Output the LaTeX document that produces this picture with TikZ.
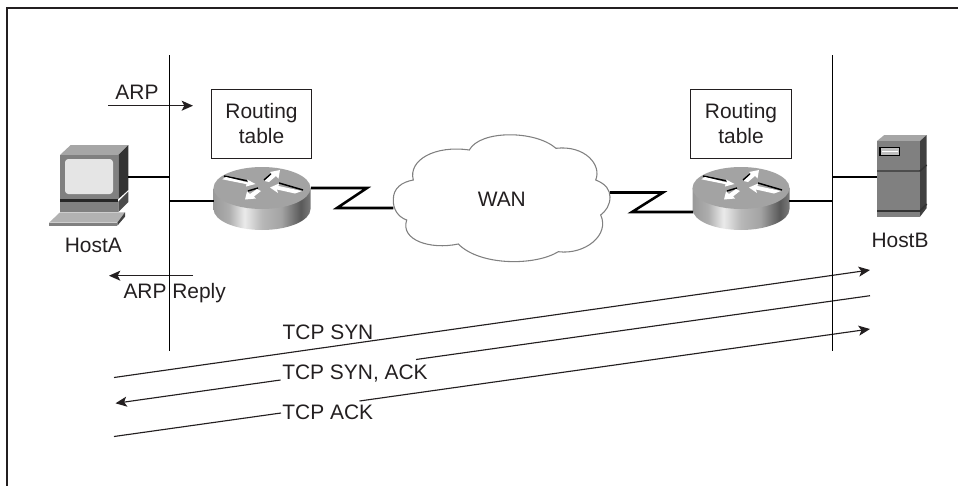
\documentclass[tikz,border=0pt]{standalone}
\usepackage{fontspec}
\usepackage{xcolor}
\usepackage{tikz}
\usetikzlibrary{arrows.meta}
\setmainfont{Liberation Sans}
\definecolor{ink}{HTML}{231F20}
\pgfdeclarehorizontalshading{routerside}{100bp}{
  color(0bp)=(black!40!white); color(25bp)=(black!40!white); color(33bp)=(black!32!white);
  color(41bp)=(black!8!white); color(50bp)=(black!28!white); color(60bp)=(black!36!white);
  color(70bp)=(black!65!white); color(75bp)=(black!52!white); color(100bp)=(black!52!white)}
\tikzset{
  lbl/.style={anchor=base, text=ink, font=\fontsize{15.7pt}{18.4pt}\selectfont, inner sep=0pt},
  wire/.style={draw=black, line width=0.8pt},
  serial/.style={draw=black, line width=1.9pt, line join=miter},
  msg/.style={draw=ink, line width=0.85pt},
  msgtip/.style={-{Stealth[length=8.5pt, width=7.5pt, inset=2pt]}},
  tablebox/.style={draw=ink, line width=0.75pt, align=center, text=ink, inner sep=0pt,
    minimum width=75.5pt, minimum height=51.5pt, font=\fontsize{15.7pt}{18.4pt}\selectfont},
  arrowwhite/.style={fill=white, draw=none},
  arrowdark/.style={draw=black, line width=1.1pt}
}
\newcommand{\routericon}[2]{
  \begin{scope}[shift={(#1,#2)}]
    \path[shading=routerside] (-48.5,21) arc (180:0:48.5 and 21) -- (48.5,0) -- (-48.5,0) -- cycle;
    \fill[black!36!white] (0,0) ellipse (48.5 and 21);
    \draw[arrowdark] (-38,-12) -- (-14,-7);
    \fill[arrowwhite] (-39.7,-8.7) -- (-36,-11) -- (-14,-5.5) -- (-15,-8.5) -- (-6.5,-4) -- (-16,-1.5) -- (-15.5,-3.8) -- cycle;
    \draw[arrowdark] (17,-5) -- (41,2);
    \fill[arrowwhite] (8,-0.5) -- (17,-4.5) -- (16.5,-2) -- (40,3) -- (33,5.5) -- (15,1.5) -- (16,5) -- cycle;
    \draw[arrowdark] (2,-8) -- (9,-14);
    \fill[arrowwhite] (18,-18) -- (16.5,-9.5) -- (14,-12) -- (7,-6) -- (2.5,-7) -- (10,-14) -- (8,-16) -- cycle;
    \draw[arrowdark] (-4,0) -- (-14,3);
    \fill[arrowwhite] (-17,11.5) -- (-15,3.5) -- (-12,6) -- (-5,1) -- (-1,3) -- (-8,8.5) -- (-6,10.5) -- cycle;
  \end{scope}
}
\begin{document}
\begin{tikzpicture}[x=0.75pt, y=-0.75pt]
  \useasboundingbox (0,0) rectangle (958,486);
  \draw[ink, line width=0.8pt] (7,486) -- (7,8) -- (958,8);

  % HostA
  \fill[black!35!white] (60,155) -- (70.7,145) -- (128.3,145) -- (118.3,155) -- cycle;
  \fill[black!80!white] (118.3,155) -- (128.3,145) -- (128.3,190) -- (118.3,199) -- cycle;
  \fill[black!50!white] (60,155) rectangle (118.3,199);
  \fill[black!10!white, rounded corners=2.5pt] (65,159) rectangle (113,194);
  \fill[black!85!white] (60,199) rectangle (118.3,201.5);
  \fill[black!50!white] (60,201.5) rectangle (118.3,212);
  \fill[black!70!white] (118.3,201.5) -- (128.3,191.5) -- (128.3,202) -- (118.3,212) -- cycle;
  \fill[black!30!white] (49,222.7) -- (60,212.3) -- (125,212.3) -- (117.3,222.7) -- cycle;
  \fill[black!50!white] (49,222.7) rectangle (117.3,225.7);
  \fill[black!75!white] (117.3,222.7) -- (125,212.3) -- (125,216.7) -- (117.3,225.7) -- cycle;

  % HostB
  \fill[black!35!white] (877,141) -- (884.3,135) -- (926.7,135) -- (920,141) -- cycle;
  \fill[black!75!white] (920,141) -- (926.7,135) -- (926.7,208) -- (920,216.7) -- cycle;
  \fill[black!50!white] (877,141) rectangle (920,216.7);
  \draw[black!80!white, line width=1.1pt] (877,171) -- (920,171) -- (926.7,165);
  \draw[black!80!white, line width=1.3pt] (877,211) -- (920,211) -- (926.7,204);
  \draw[black, line width=0.8pt, fill=black!25!white] (880,147.7) rectangle (899.7,155.7);
  \draw[white, line width=0.7pt] (882,151) -- (897.5,151);

  \routericon{262}{188}
  \routericon{741}{188}

  \coordinate (busatop) at (169.5,55);
  \coordinate (busabot) at (169.5,351);
  \coordinate (busbtop) at (832.7,55);
  \coordinate (busbbot) at (832.7,351);
  \coordinate (hostaport) at (128,177);
  \coordinate (busahost) at (169.5,177);
  \coordinate (busarouter) at (169.5,201);
  \coordinate (routeraw) at (214,201);
  \coordinate (routerae) at (311,188);
  \coordinate (zaa) at (367,188);
  \coordinate (zab) at (337,208);
  \coordinate (wanw) at (393.3,208);
  \coordinate (wane) at (610,192.5);
  \coordinate (zba) at (663,192.5);
  \coordinate (zbb) at (632,212);
  \coordinate (routerbw) at (693,212);
  \coordinate (routerbe) at (789,201);
  \coordinate (busbrouter) at (832.7,201);
  \coordinate (busbhost) at (832.7,177);
  \coordinate (hostbport) at (877,177);

  \draw[wire] (hostaport) -- (busahost);
  \draw[wire] (busarouter) -- (routeraw);
  \draw[wire] (routerbe) -- (busbrouter);
  \draw[wire] (busbhost) -- (hostbport);
  \draw[serial] (routerae) -- (zaa) -- (zab) -- (wanw);
  \draw[serial] (wane) -- (zba) -- (zbb) -- (routerbw);

  % WAN cloud
  \draw[black!50!white, fill=white, line width=0.8pt] (393.3,200)
    .. controls (393,188) and (402,182) .. (413.3,180)
    .. controls (408,160) and (435,145) .. (469.3,150)
    .. controls (480,130) and (535,130) .. (556,148.3)
    .. controls (585,145) and (602,165) .. (595.7,180)
    .. controls (606,184) and (610,190) .. (610,197)
    .. controls (610,205) and (606,211) .. (600.7,215)
    .. controls (610,235) and (585,255) .. (558.3,251.7)
    .. controls (535,266) and (480,266) .. (458.3,244)
    .. controls (430,250) and (400,240) .. (406.7,220)
    .. controls (398,217) and (393,209) .. (393.3,200) -- cycle;

  \node[tablebox] (tablea) at (261.5,123.7) {Routing\\table};
  \node[tablebox] (tableb) at (741,123.7) {Routing\\table};
  \node[lbl] (wan) at (501.8,206) {WAN};
  \node[lbl] (hosta) at (93.3,252.7) {HostA};
  \node[lbl] (hostb) at (900,247) {HostB};
  \node[lbl] (arp) at (137,99) {ARP};
  \node[lbl] (arpreply) at (174.7,298) {ARP Reply};
  \node[lbl] (tcpsyn) at (328,339) {TCP SYN};
  \node[lbl] (tcpsynack) at (355,379) {TCP SYN, ACK};
  \node[lbl] (tcpack) at (327.8,419) {TCP ACK};

  \coordinate (arpfrom) at (108,105.7);
  \coordinate (arpto) at (193,105.7);
  \coordinate (replyfrom) at (193,275.7);
  \coordinate (replyto) at (109,275.7);
  \coordinate (synfrom) at (114,377.5);
  \coordinate (synto) at (870,270);
  \coordinate (sackfrom) at (870,295.7);
  \coordinate (sackin) at (416,359.5);
  \coordinate (sackout) at (280.5,380);
  \coordinate (sackto) at (115.5,403.3);
  \coordinate (ackfrom) at (114,436.5);
  \coordinate (ackin) at (281,413);
  \coordinate (ackout) at (359.5,401);
  \coordinate (ackto) at (870,329);

  \draw[msg, msgtip, line width=1.1pt] (arpfrom) -- (arpto);
  \draw[msg, msgtip, line width=1.1pt] (replyfrom) -- (replyto);
  \draw[msg, msgtip] (synfrom) -- (synto);
  \draw[msg] (sackfrom) -- (sackin);
  \draw[msg, msgtip] (sackout) -- (sackto);
  \draw[msg] (ackfrom) -- (ackin);
  \draw[msg, msgtip] (ackout) -- (ackto);

  \draw[wire] (busatop) -- (busabot);
  \draw[wire] (busbtop) -- (busbbot);
\end{tikzpicture}
\end{document}
